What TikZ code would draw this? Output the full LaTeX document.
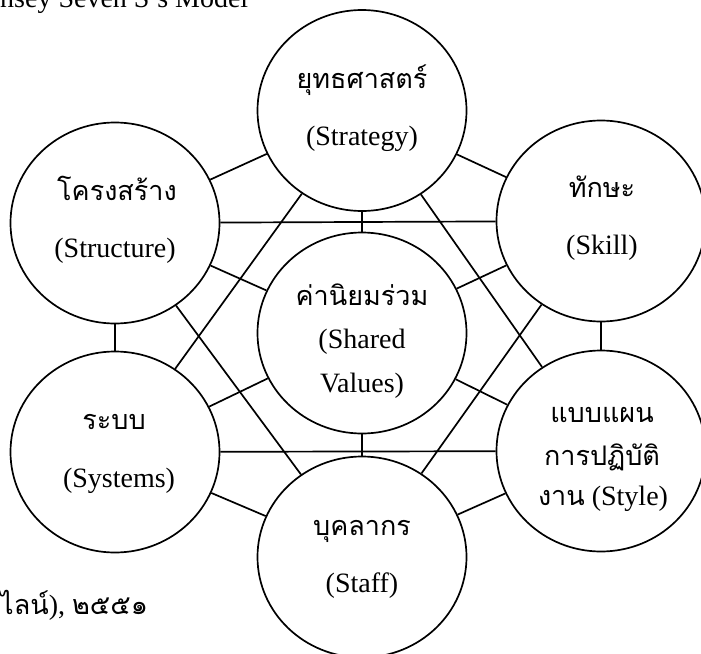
\documentclass[tikz,border=0pt]{standalone}
\usepackage{fontspec}
\setmainfont{Liberation Serif}
\newfontfamily\thai[Script=Thai]{Loma}
\usetikzlibrary{shapes.geometric}

\newcommand{\thaisize}{\fontsize{27}{27}\selectfont\thai}

\tikzset{
  element/.style={ellipse, draw, line width=1.7pt, fill=white,
                  minimum width=209pt, minimum height=201pt, inner sep=0pt},
  link/.style={line width=1.7pt},
  latin/.style={anchor=base, inner sep=0pt, font=\fontsize{28}{28}\selectfont},
  thaitext/.style={anchor=base, inner sep=0pt, font=\thaisize},
}

\begin{document}
\begin{tikzpicture}[x=1pt, y=-1pt]
  \useasboundingbox (0,0) rectangle (701,653);
  \clip (0,0) rectangle (701,653);

  % the seven elements
  \node[element] (strategy) at (362,110.5) {};
  \node[element] (structure) at (115,223) {};
  \node[element] (skill) at (601,221) {};
  \node[element] (shared) at (362,333) {};
  \node[element] (systems) at (115,452) {};
  \node[element] (style) at (601,451) {};
  \node[element] (staff) at (362,557) {};

  % outer ring
  \draw[link] (strategy) -- (skill);
  \draw[link] (skill) -- (style);
  \draw[link] (style) -- (staff);
  \draw[link] (staff) -- (systems);
  \draw[link] (systems) -- (structure);
  \draw[link] (structure) -- (strategy);

  % spokes to the centre
  \foreach \n in {strategy,structure,skill,systems,style,staff}
    \draw[link] (\n) -- (shared);

  % the two triangles
  \draw[link] (strategy) -- (style);
  \draw[link] (style) -- (systems);
  \draw[link] (systems) -- (strategy);
  \draw[link] (skill) -- (staff);
  \draw[link] (staff) -- (structure);
  \draw[link] (structure) -- (skill);

  % labels
  \node[thaitext] (strategyth) at (362,88) {ยุทธศาสตร์};
  \node[latin] (strategyen) at (362,145) {(Strategy)};

  \node[thaitext] (structureth) at (117,200) {โครงสร้าง};
  \node[latin] (structureen) at (115,257) {(Structure)};

  \node[thaitext] (skillth) at (602,197) {ทักษะ};
  \node[latin] (skillen) at (602,254) {(Skill)};

  \node[thaitext] (sharedth) at (362,305) {ค่านิยมร่วม};
  \node[latin] (shareden) at (362,348) {(Shared};
  \node[latin] (sharedval) at (362,392) {Values)};

  \node[thaitext] (systemsth) at (114,429) {ระบบ};
  \node[latin] (systemsen) at (119,487) {(Systems)};

  \node[thaitext] (styleth) at (602,422) {แบบแผน};
  \node[thaitext] (styleth2) at (602,465) {การปฏิบัติ};
  \node[latin] (styleen) at (603,505) {{\thaisize งาน} (Style)};

  \node[thaitext] (staffth) at (362,535) {บุคลากร};
  \node[latin] (staffen) at (362,592) {(Staff)};

  % page text around the figure
  \node[latin, anchor=base west] (title) at (0,8) {nsey Seven S's Model};
  \node[latin, anchor=base west] (source) at (0,614)
    {{\thaisize ไลน์}), {\thaisize ๒๕๕๑}};
\end{tikzpicture}
\end{document}
